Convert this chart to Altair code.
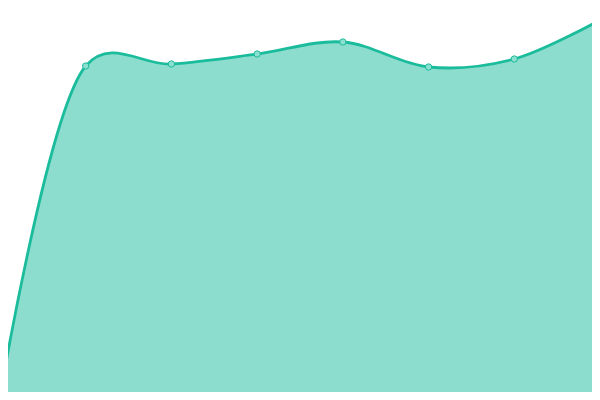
import altair as alt
import pandas as pd

xs = [0, 1, 2, 3, 4, 5, 6, 7]
values = [3, 334, 336, 346, 358, 333, 341, 380]

df = pd.DataFrame({"x": xs, "y": values})

base = alt.Chart(df).encode(
    x=alt.X("x:Q", axis=None,
            scale=alt.Scale(domain=[0, 7], nice=False, zero=False, range=[-8, 592])),
    y=alt.Y("y:Q", axis=None,
            scale=alt.Scale(domain=[0, 400], nice=False, range=[392, -8])),
)

area = base.mark_area(interpolate="catmull-rom", tension=0.3, color="#1abc9c", opacity=0.5)
line = base.mark_line(interpolate="catmull-rom", tension=0.3, color="#1abc9c", strokeWidth=2.8)
pts = base.mark_point(filled=True, size=40, fill="#8de0cf", stroke="#1abc9c",
                      strokeWidth=1, opacity=1)

chart = (area + line + pts).properties(
    width=584, height=384, padding=0,
    autosize=alt.AutoSizeParams(type="none"),
).configure_view(stroke=None)

chart.save("out.html", embed_options={"renderer": "svg", "actions": False})
